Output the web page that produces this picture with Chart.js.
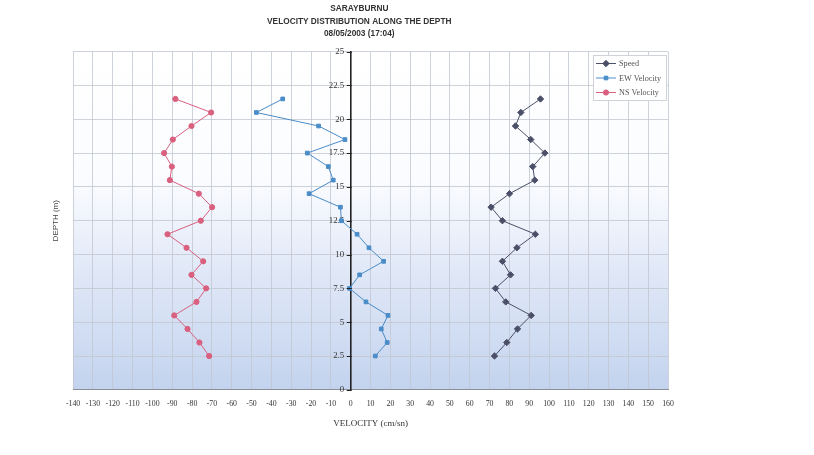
<!DOCTYPE html>
<html>
<head>
<meta charset="utf-8">
<script src="https://cdn.jsdelivr.net/npm/chart.js@4/dist/chart.umd.min.js"></script>
<style>
  html, body { margin: 0; padding: 0; background: #ffffff; }
  #wrap { width: 814px; height: 455px; position: relative; }
</style>
</head>
<body>
<div id="wrap"><canvas id="c" width="814" height="455"></canvas></div>
<script>
// ---- data ----
const depths = [21.5, 20.5, 19.5, 18.5, 17.5, 16.5, 15.5, 14.5, 13.5, 12.5, 11.5, 10.5, 9.5, 8.5, 7.5, 6.5, 5.5, 4.5, 3.5, 2.5];
const speed = [95.7, 85.8, 83.1, 90.8, 97.9, 91.8, 92.8, 80.1, 70.8, 76.5, 93.1, 83.8, 76.5, 80.6, 73.0, 78.2, 91.0, 84.1, 78.7, 72.5];
const ewVelocity = [-34.3, -47.6, -16.2, -2.9, -21.9, -11.3, -8.8, -21.0, -5.2, -4.7, 3.2, 9.2, 16.6, 4.5, -0.6, 7.7, 18.8, 15.4, 18.4, 12.4];
const nsVelocity = [-88.4, -70.4, -80.3, -89.7, -94.1, -90.2, -91.2, -76.6, -69.9, -75.6, -92.4, -82.8, -74.4, -80.3, -72.9, -77.8, -89.0, -82.3, -76.3, -71.4];
const seriesNames = ['Speed', 'EW Velocity', 'NS Velocity'];
const titleLines = ['SARAYBURNU', 'VELOCITY DISTRIBUTION ALONG THE DEPTH', '08/05/2003 (17:04)'];
const xTitle = 'VELOCITY (cm/sn)';
const yTitle = 'DEPTH (m)';
const xMin = -140, xMax = 160, xStep = 10;
const yMin = 0, yMax = 25, yStep = 2.5;

const toPoints = (vals) => vals.map((v, i) => ({ x: v, y: depths[i] }));

const colors = ['#4b5068', '#4a8cc8', '#d9607f'];
const styles = ['rectRot', 'rect', 'circle'];
const radii = [3.2, 2.6, 2.6];

const bgPlugin = {
  id: 'bg',
  beforeDraw(chart) {
    const { ctx, chartArea: a } = chart;
    const g = ctx.createLinearGradient(0, a.top, 0, a.bottom);
    g.addColorStop(0, '#ffffff');
    g.addColorStop(0.38, '#fbfcff');
    g.addColorStop(0.62, '#e3eaf8');
    g.addColorStop(1, '#c3d3ee');
    ctx.save();
    ctx.fillStyle = g;
    ctx.fillRect(a.left, a.top, a.right - a.left, a.bottom - a.top);
    ctx.restore();
  }
};

// small tick marks crossing the depth axis, placed through the library's scales
const axisTicksPlugin = {
  id: 'axisTicks',
  afterDatasetsDraw(chart) {
    const { ctx } = chart;
    const sx = chart.scales.x, sy = chart.scales.y;
    const ax = sx.getPixelForValue(0);
    ctx.save();
    ctx.strokeStyle = '#222';
    ctx.lineWidth = 1;
    sy.ticks.forEach(t => {
      const py = Math.round(sy.getPixelForValue(t.value)) + 0.5;
      ctx.beginPath();
      ctx.moveTo(ax - 4, py);
      ctx.lineTo(ax + 1, py);
      ctx.stroke();
    });
    ctx.restore();
  }
};

const legendPlugin = {
  id: 'boxLegend',
  afterDatasetsDraw(chart) {
    const { ctx } = chart;
    const bx = 593, by = 55, bw = 73, bh = 45;
    ctx.save();
    ctx.fillStyle = '#ffffff';
    ctx.strokeStyle = '#cfd2d8';
    ctx.lineWidth = 1;
    ctx.fillRect(bx, by, bw, bh);
    ctx.strokeRect(bx + 0.5, by + 0.5, bw, bh);
    ctx.font = '8.2px "Liberation Serif", "Times New Roman", serif';
    ctx.textBaseline = 'middle';
    chart.data.datasets.forEach((ds, i) => {
      const yy = by + 8.5 + i * 14.5;
      ctx.strokeStyle = ds.borderColor;
      ctx.lineWidth = 1;
      ctx.beginPath();
      ctx.moveTo(bx + 3, yy);
      ctx.lineTo(bx + 23, yy);
      ctx.stroke();
      ctx.fillStyle = ds.pointBackgroundColor;
      ctx.strokeStyle = ds.pointBorderColor;
      Chart.helpers.drawPoint(ctx, { pointStyle: ds.pointStyle, radius: ds.pointRadius, borderWidth: 1 }, bx + 13, yy);
      ctx.fillStyle = '#555';
      ctx.fillText(ds.label, bx + 26, yy + 0.5);
    });
    ctx.restore();
  }
};

const datasets = [speed, ewVelocity, nsVelocity].map((vals, i) => ({
  label: seriesNames[i],
  data: toPoints(vals),
  showLine: true,
  borderColor: colors[i],
  backgroundColor: colors[i],
  pointBackgroundColor: colors[i],
  pointBorderColor: colors[i],
  pointStyle: styles[i],
  pointRadius: radii[i],
  pointBorderWidth: 1,
  borderWidth: 1,
  tension: 0,
  fill: false
}));

const serif = '"Liberation Serif", "Times New Roman", serif';
const sans = '"Liberation Sans", Arial, sans-serif';

new Chart(document.getElementById('c'), {
  type: 'scatter',
  data: { datasets },
  options: {
    responsive: false,
    animation: false,
    layout: { padding: { left: 50.5, right: 146, top: 0, bottom: 26 } },
    plugins: {
      legend: { display: false },
      tooltip: { enabled: false },
      title: {
        display: true,
        text: titleLines,
        color: '#333',
        font: { family: sans, size: 8.3, weight: 'bold', lineHeight: 1.55 },
        padding: { top: 2, bottom: 11 }
      }
    },
    scales: {
      x: {
        type: 'linear',
        position: 'bottom',
        min: xMin, max: xMax,
        ticks: { stepSize: xStep, color: '#333', font: { family: serif, size: 7.8 }, padding: 9, maxRotation: 0, autoSkip: false },
        grid: { color: '#c2c6d0', lineWidth: 0.8, drawTicks: false },
        border: { display: true, color: '#8a8e98', width: 1 },
        title: { display: true, text: xTitle, color: '#333', font: { family: serif, size: 9 }, padding: { top: 1, bottom: 0 } }
      },
      y: {
        type: 'linear',
        axis: 'y',
        position: { x: 0 },
        min: yMin, max: yMax,
        ticks: {
          stepSize: yStep, color: '#333', font: { family: serif, size: 8.8 }, padding: 2,
          callback: (v) => String(v) + '   '
        },
        grid: { color: '#c2c6d0', lineWidth: 0.8, drawTicks: false },
        border: { display: true, color: '#222', width: 1.6 }
      },
      yt: {
        type: 'linear',
        axis: 'y',
        position: 'left',
        display: true,
        ticks: { display: false },
        grid: { display: false, drawTicks: false },
        border: { display: false },
        title: { display: true, text: yTitle, color: '#444', font: { family: sans, size: 8 }, padding: { top: 0, bottom: 13 } }
      }
    }
  },
  plugins: [bgPlugin, axisTicksPlugin, legendPlugin]
});
</script>
</body>
</html>
